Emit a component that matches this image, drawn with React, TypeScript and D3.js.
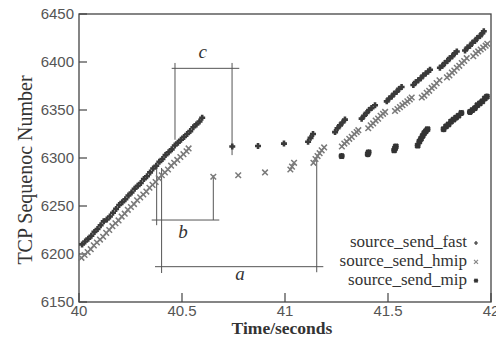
import React from "react";
import * as d3 from "d3";

const W = 496;
const H = 339;

// x ticks / y ticks
const xTicks = [40, 40.5, 41, 41.5, 42];
const yTicks = [6150, 6200, 6250, 6300, 6350, 6400, 6450];

// source_send_fast: [time, seq]
const fastData: [number, number][] = [
  [40.015, 6210], [40.03, 6213], [40.045, 6216], [40.06, 6219], [40.075, 6223],
  [40.09, 6226], [40.105, 6230], [40.12, 6234], [40.135, 6236], [40.15, 6239],
  [40.165, 6243], [40.18, 6247], [40.195, 6251], [40.21, 6254], [40.225, 6257],
  [40.24, 6261], [40.255, 6264], [40.27, 6268], [40.285, 6271], [40.3, 6274],
  [40.315, 6278], [40.33, 6281], [40.345, 6285], [40.36, 6289], [40.375, 6292],
  [40.39, 6296], [40.405, 6299], [40.42, 6303], [40.435, 6306], [40.45, 6309],
  [40.465, 6313], [40.48, 6316], [40.495, 6319], [40.51, 6322], [40.525, 6325],
  [40.54, 6328], [40.555, 6332], [40.57, 6335], [40.585, 6338], [40.598, 6342],
  [40.744, 6312], [40.869, 6312.5], [40.995, 6315],
  [41.112, 6317], [41.124, 6321], [41.136, 6325],
  [41.243, 6327], [41.255, 6331], [41.267, 6334], [41.279, 6337], [41.291, 6340],
  [41.372, 6341], [41.384, 6344], [41.396, 6347], [41.408, 6350], [41.42, 6352], [41.437, 6355],
  [41.494, 6359], [41.506, 6362], [41.518, 6364], [41.53, 6367], [41.542, 6369], [41.554, 6372], [41.566, 6374],
  [41.623, 6376], [41.635, 6379], [41.647, 6381], [41.659, 6383], [41.671, 6386], [41.683, 6388], [41.695, 6390], [41.704, 6392],
  [41.752, 6394], [41.764, 6396], [41.776, 6399], [41.788, 6401], [41.8, 6404], [41.812, 6406], [41.824, 6409], [41.834, 6411],
  [41.874, 6412], [41.886, 6415], [41.898, 6417], [41.91, 6420], [41.922, 6422], [41.934, 6425], [41.946, 6427], [41.958, 6430], [41.965, 6432],
];

// source_send_hmip
const hmipData: [number, number][] = [
  [40.012, 6196], [40.027, 6199], [40.042, 6202], [40.057, 6205], [40.072, 6209],
  [40.087, 6212], [40.102, 6215], [40.117, 6218], [40.132, 6222], [40.147, 6225],
  [40.162, 6229], [40.177, 6232], [40.192, 6235], [40.207, 6239], [40.222, 6242],
  [40.237, 6246], [40.252, 6249], [40.267, 6252], [40.282, 6256], [40.297, 6259],
  [40.312, 6262], [40.327, 6265], [40.342, 6269], [40.357, 6272], [40.372, 6275],
  [40.387, 6279], [40.402, 6282], [40.417, 6285], [40.432, 6288], [40.447, 6292],
  [40.462, 6295], [40.477, 6298], [40.492, 6301], [40.507, 6304], [40.522, 6307], [40.532, 6310],
  [40.652, 6280.5], [40.773, 6282], [40.903, 6285],
  [41.026, 6288], [41.034, 6291], [41.044, 6295],
  [41.138, 6295], [41.148, 6299], [41.158, 6302], [41.168, 6305], [41.178, 6308], [41.19, 6311],
  [41.276, 6312], [41.288, 6315], [41.3, 6317], [41.312, 6320], [41.324, 6322], [41.336, 6325], [41.348, 6327], [41.356, 6329],
  [41.404, 6331], [41.416, 6334], [41.428, 6336], [41.44, 6339], [41.452, 6341], [41.464, 6344], [41.476, 6346], [41.486, 6348],
  [41.534, 6349], [41.546, 6351], [41.558, 6353], [41.57, 6355], [41.582, 6357], [41.594, 6359], [41.606, 6361], [41.615, 6363],
  [41.664, 6363], [41.676, 6365], [41.688, 6368], [41.7, 6370], [41.712, 6373], [41.724, 6375], [41.736, 6378], [41.75, 6381],
  [41.786, 6384], [41.798, 6386], [41.81, 6389], [41.822, 6391], [41.834, 6394], [41.846, 6396], [41.858, 6399], [41.87, 6401], [41.882, 6404],
  [41.914, 6406], [41.926, 6409], [41.938, 6411], [41.95, 6413], [41.962, 6415], [41.974, 6417], [41.982, 6419],
];

// source_send_mip
const mipData: [number, number][] = [
  [41.275, 6302],
  [41.402, 6304], [41.406, 6306],
  [41.53, 6308], [41.534, 6310], [41.538, 6312],
  [41.644, 6313], [41.652, 6317], [41.66, 6320], [41.668, 6323], [41.676, 6326], [41.684, 6328], [41.692, 6330],
  [41.77, 6330], [41.782, 6333], [41.794, 6335], [41.806, 6338], [41.818, 6340], [41.83, 6342], [41.842, 6344], [41.856, 6347],
  [41.898, 6348], [41.91, 6350], [41.922, 6352], [41.934, 6355], [41.946, 6357], [41.958, 6359], [41.97, 6362], [41.98, 6364],
];

const legendLabels = ["source_send_fast", "source_send_hmip", "source_send_mip"];

// annotation brackets (data coordinates): [x1, y1, x2, y2]
const annotLines: [number, number, number, number][] = [
  // a
  [40.369, 6186.8, 41.186, 6186.8],
  [40.401, 6289.6, 40.401, 6180.2],
  [41.154, 6301, 41.154, 6181],
  // b
  [40.353, 6235.4, 40.681, 6235.4],
  [40.377, 6291, 40.377, 6230],
  [40.652, 6282, 40.652, 6235.4],
  // c
  [40.45, 6393.4, 40.778, 6393.4],
  [40.466, 6399, 40.466, 6319],
  [40.743, 6399, 40.743, 6303],
];
const annotLabels: [string, number, number][] = [
  ["a", 40.782, 6173],
  ["b", 40.505, 6217],
  ["c", 40.6, 6404],
];

const plus = (cx: number, cy: number, s: number) =>
  `M${cx - s},${cy}H${cx + s}M${cx},${cy - s}V${cy + s}`;
const cross = (cx: number, cy: number, s: number) =>
  `M${cx - s},${cy - s}L${cx + s},${cy + s}M${cx - s},${cy + s}L${cx + s},${cy - s}`;
const star = (cx: number, cy: number, s: number) => plus(cx, cy, s) + cross(cx, cy, s * 0.8);

export default function App() {
  const x = d3.scaleLinear().domain([40, 42]).range([79, 491]);
  const y = d3.scaleLinear().domain([6150, 6450]).range([302, 14]);
  const sans = "'Liberation Sans', Arial, sans-serif";
  const serif = "'Liberation Serif', 'Times New Roman', serif";

  return (
    <svg width={W} height={H} style={{ position: "absolute", left: 0, top: 0, background: "#fff" }}>
      {/* frame */}
      <rect x={79} y={14} width={412} height={288} fill="none" stroke="#444" strokeWidth={1.3} />
      {/* ticks */}
      {xTicks.map((t) => (
        <g key={"xt" + t}>
          <line x1={x(t)} x2={x(t)} y1={302} y2={293} stroke="#444" strokeWidth={1.2} />
          <text x={x(t)} y={316} textAnchor="middle" fontFamily={sans} fontSize={15} fill="#555">
            {t}
          </text>
        </g>
      ))}
      {yTicks.map((t) => (
        <g key={"yt" + t}>
          <line x1={79} x2={87} y1={y(t)} y2={y(t)} stroke="#444" strokeWidth={1.2} />
          <text x={74} y={y(t)} dy="0.36em" textAnchor="end" fontFamily={sans} fontSize={15} fill="#555">
            {t}
          </text>
        </g>
      ))}
      {/* axis titles */}
      <text x={282} y={334} textAnchor="middle" fontFamily={serif} fontSize={17.5} fontWeight="bold" fill="#333">
        Time/seconds
      </text>
      <text
        transform="translate(32,170) rotate(-90)"
        textAnchor="middle"
        fontFamily={serif}
        fontSize={20}
        fill="#333"
      >
        TCP Sequenoc Number
      </text>

      {/* annotations */}
      {annotLines.map((l, i) => (
        <line key={"al" + i} x1={x(l[0])} y1={y(l[1])} x2={x(l[2])} y2={y(l[3])} stroke="#555" strokeWidth={1} />
      ))}
      {annotLabels.map(([s, tx, ty]) => (
        <text key={s} x={x(tx)} y={y(ty)} textAnchor="middle" fontFamily={serif} fontStyle="italic" fontSize={19} fill="#333">
          {s}
        </text>
      ))}

      {/* data */}
      <g stroke="#7a7a7a" strokeWidth={1.5} fill="none">
        {hmipData.map((d, i) => (
          <path key={"h" + i} d={cross(x(d[0]), y(d[1]), 2.8)} />
        ))}
      </g>
      <g stroke="#3a3a3a" strokeWidth={2.6} fill="none">
        {fastData.map((d, i) => (
          <path key={"f" + i} d={plus(x(d[0]), y(d[1]), 3)} />
        ))}
      </g>
      <g stroke="#333" strokeWidth={2} fill="none">
        {mipData.map((d, i) => (
          <path key={"m" + i} d={star(x(d[0]), y(d[1]), 3)} />
        ))}
      </g>

      {/* legend */}
      {legendLabels.map((lab, i) => {
        const ly = 247 + i * 18.8;
        const mx = 476;
        const my = ly - 4;
        const d = i === 0 ? plus(mx, my, 2) : i === 1 ? cross(mx, my, 2) : star(mx, my, 2.2);
        return (
          <g key={lab}>
            <text x={467} y={ly} textAnchor="end" fontFamily={serif} fontSize={17} fill="#333">
              {lab}
            </text>
            <path d={d} stroke={i === 1 ? "#888" : "#333"} strokeWidth={1.2} fill="none" />
          </g>
        );
      })}
    </svg>
  );
}
